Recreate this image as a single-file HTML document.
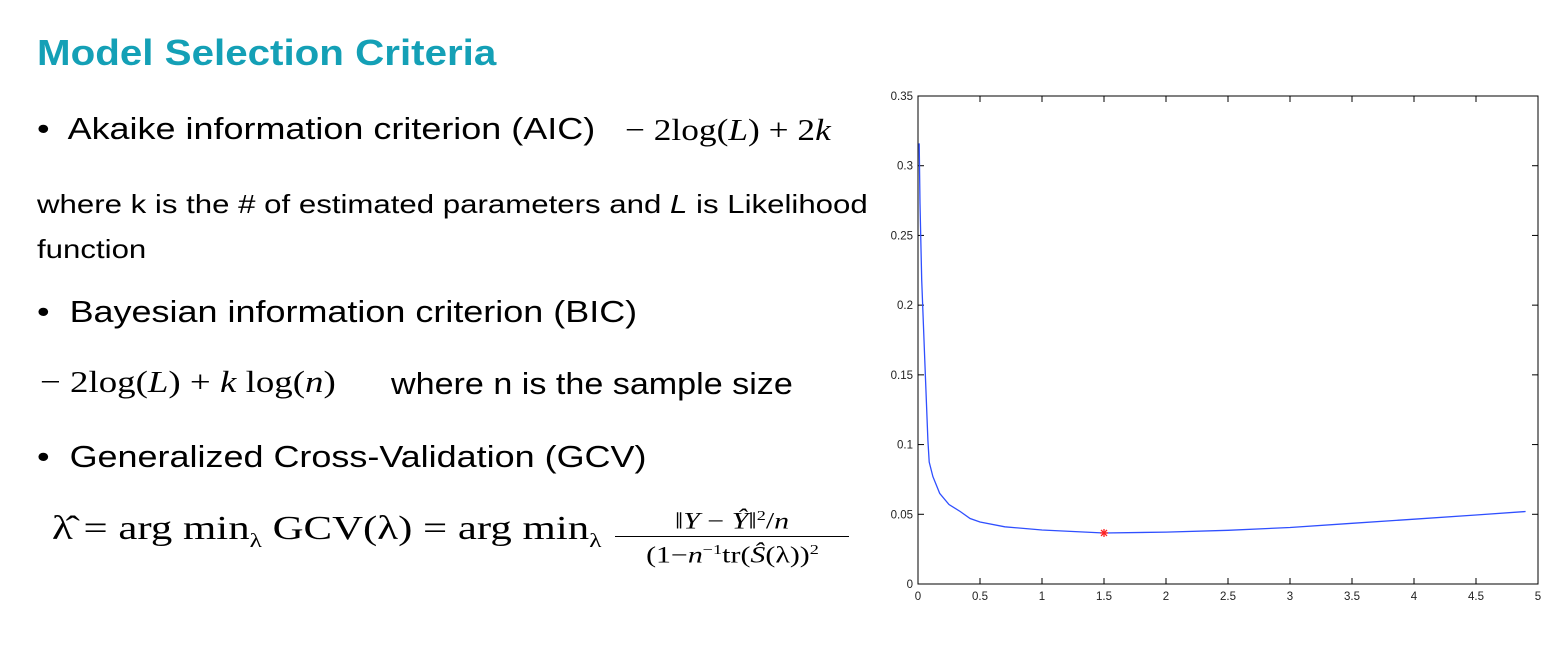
<!DOCTYPE html>
<html><head><meta charset="utf-8"><style>
body{margin:0;width:1559px;height:666px;background:#fff;position:relative;overflow:hidden;font-family:"Liberation Sans",sans-serif}
.t{position:absolute;white-space:nowrap;color:#000;transform-origin:0 0}
.m{font-family:"Liberation Serif",serif}
</style></head><body>
<div class="t" style="left:37px;top:32px;font-size:36px;font-weight:bold;color:#14a0b6;transform:scaleX(1.12)">Model Selection Criteria</div>
<div class="t" style="left:37px;top:111px;font-size:31px;transform:scaleX(1.16)">•&nbsp; Akaike information criterion (AIC)</div>
<div class="t m" style="left:625px;top:112px;font-size:31px;transform:scaleX(1.14)">− 2log(<i>L</i>) + 2<i>k</i></div>
<div class="t" style="left:37px;top:182px;font-size:26px;line-height:45px;transform:scaleX(1.2)">where k is the # of estimated parameters and <i>L</i> is Likelihood<br>function</div>
<div class="t" style="left:37px;top:294px;font-size:31px;transform:scaleX(1.16)">•&nbsp; Bayesian information criterion (BIC)</div>
<div class="t m" style="left:40px;top:364px;font-size:31px;transform:scaleX(1.19)">− 2log(<i>L</i>) + <i>k</i> log(<i>n</i>)</div>
<div class="t" style="left:391px;top:366px;font-size:31px;transform:scaleX(1.1)">where n is the sample size</div>
<div class="t" style="left:37px;top:439px;font-size:31px;transform:scaleX(1.16)">•&nbsp; Generalized Cross-Validation (GCV)</div>
<div class="t m" style="left:52px;top:510px;font-size:34px;transform:scaleX(1.26)">λ̂ = arg min<sub style="font-size:20px">λ</sub> GCV(λ) = arg min<sub style="font-size:20px">λ</sub></div>
<div class="t m" style="left:615px;top:503px;font-size:23px;text-align:center;width:234px;line-height:28px"><div style="border-bottom:1.5px solid #000"><span style="display:inline-block;transform:scaleX(1.3)">‖<i>Y</i> − <i>Ŷ</i>‖<sup style="font-size:14px">2</sup>/<i>n</i></span></div><div><span style="display:inline-block;transform:scaleX(1.3)">(1−<i>n</i><sup style="font-size:14px">−1</sup>tr(<i>Ŝ</i>(λ))<sup style="font-size:14px">2</sup></span></div></div>

<svg id="chart" width="1559" height="666" style="position:absolute;left:0;top:0" font-family="Liberation Sans, sans-serif" font-size="11.5"></svg>
<script>
const xTicks=[0,0.5,1,1.5,2,2.5,3,3.5,4,4.5,5];
const xTickLabels=["0","0.5","1","1.5","2","2.5","3","3.5","4","4.5","5"];
const yTicks=[0,0.05,0.1,0.15,0.2,0.25,0.3,0.35];
const yTickLabels=["0","0.05","0.1","0.15","0.2","0.25","0.3","0.35"];
const lambdaVals=[0.01,0.016,0.03,0.055,0.08,0.09,0.12,0.175,0.25,0.34,0.42,0.5,0.7,1.0,1.5,2.0,2.5,3.0,3.5,4.0,4.5,4.9];
const gcvVals=[0.316,0.273,0.218,0.16,0.103,0.0875,0.077,0.065,0.057,0.052,0.047,0.0445,0.041,0.0387,0.0366,0.0372,0.0385,0.0405,0.0435,0.0465,0.0495,0.052];
const minLambda=[1.5];
const minGcv=[0.0366];
const L=918,R=1538,T=96,B=584;
const sx=v=>L+(v-0)/(5-0)*(R-L);
const sy=v=>B-(v-0)/(0.35-0)*(B-T);
const svg=document.getElementById('chart');
const NS='http://www.w3.org/2000/svg';
function mk(tag,attrs){const e=document.createElementNS(NS,tag);for(const k in attrs)e.setAttribute(k,attrs[k]);svg.appendChild(e);return e;}
const frame=mk('rect',{x:L,y:T,width:R-L,height:B-T,fill:'none',stroke:'#000','stroke-width':1});


xTicks.forEach((v,i)=>{
  const x=sx(v);
  const t1=mk('line',{x1:x,x2:x,y1:B,y2:B-6,stroke:'#000'});
  
  
  const t2=mk('line',{x1:x,x2:x,y1:T,y2:T+6,stroke:'#000'});
  
  
  const lb=mk('text',{x:x,y:B+16,'text-anchor':'middle',fill:'#222'});
  lb.textContent=xTickLabels[i];
  
  
});
yTicks.forEach((v,i)=>{
  const y=sy(v);
  const t1=mk('line',{x1:L,x2:L+6,y1:y,y2:y,stroke:'#000'});
  
  
  const t2=mk('line',{x1:R,x2:R-6,y1:y,y2:y,stroke:'#000'});
  
  
  const lb=mk('text',{x:L-5,y:y+4,'text-anchor':'end',fill:'#222'});
  lb.textContent=yTickLabels[i];
  
  
});
const pts=lambdaVals.map((v,i)=>sx(v).toFixed(1)+','+sy(gcvVals[i]).toFixed(1)).join(' ');
const line=mk('polyline',{points:pts,fill:'none',stroke:'#2f4fff','stroke-width':1.3});


minLambda.forEach((v,i)=>{
  const cx=sx(v),cy=sy(minGcv[i]);
  const g=document.createElementNS(NS,'g');svg.appendChild(g);
  
  
  [[-4,0,4,0],[0,-4,0,4],[-3,-3,3,3],[-3,3,3,-3]].forEach(d=>{
    const l=document.createElementNS(NS,'line');
    l.setAttribute('x1',cx+d[0]);l.setAttribute('y1',cy+d[1]);l.setAttribute('x2',cx+d[2]);l.setAttribute('y2',cy+d[3]);
    l.setAttribute('stroke','#ff2020');l.setAttribute('stroke-width','1.3');g.appendChild(l);
  });
});
</script>
</body></html>
